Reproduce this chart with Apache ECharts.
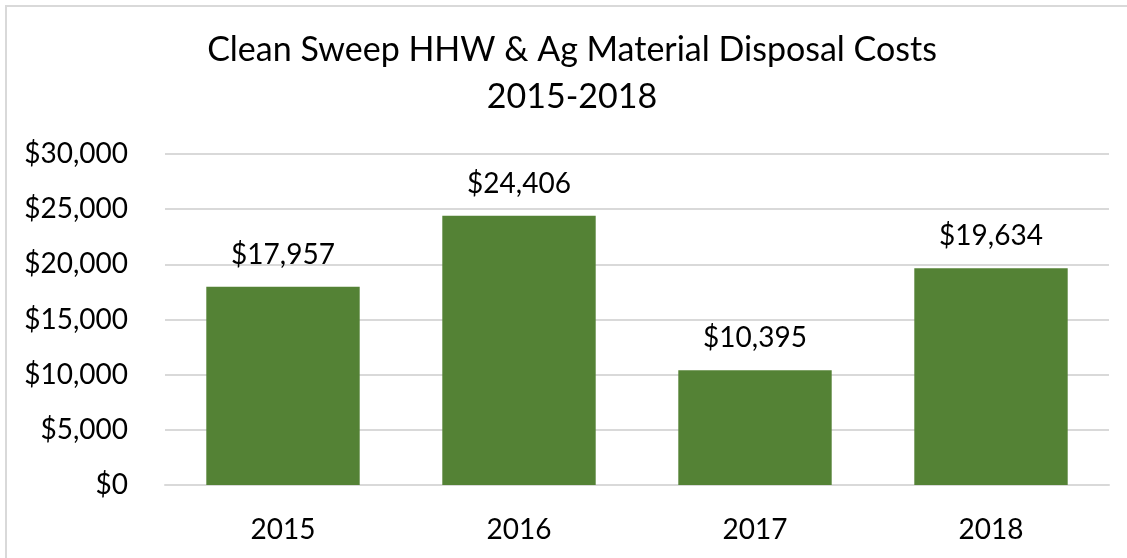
<!DOCTYPE html>
<html>
<head>
<meta charset="utf-8">
<script src="https://cdn.jsdelivr.net/npm/echarts@6/dist/echarts.min.js"></script>
<style>
html, body { margin: 0; padding: 0; background: #fff; }
#chart { width: 1127px; height: 558px; }
</style>
</head>
<body>
<div id="chart"></div>
<script>
var years = ['2015', '2016', '2017', '2018'];
var costs = [17957, 24406, 10395, 19634];
var yTicks = [0, 5000, 10000, 15000, 20000, 25000, 30000];

function money(v) {
    return '$' + Number(v).toLocaleString('en-US');
}

var chart = echarts.init(document.getElementById('chart'));
chart.setOption({
    backgroundColor: '#fff',
    textStyle: { fontFamily: 'Lato' },
    graphic: [{
        type: 'polyline',
        shape: { points: [[6, 600], [6, 6], [1200, 6]] },
        style: { stroke: '#d9d9d9', lineWidth: 2, fill: null }
    }],
    title: {
        text: 'Clean Sweep HHW & Ag Material Disposal Costs\n2015-2018',
        left: 567,
        textAlign: 'center',
        top: 22,
        textStyle: {
            fontFamily: 'Lato',
            fontWeight: 'normal',
            fontSize: 34,
            lineHeight: 47,
            color: '#000'
        }
    },
    grid: {
        left: 165,
        right: 18,
        top: 154,
        bottom: 73
    },
    xAxis: {
        type: 'category',
        data: years,
        axisTick: { show: false },
        axisLine: { lineStyle: { color: '#d9d9d9', width: 2 } },
        axisLabel: {
            color: '#000',
            fontSize: 28,
            margin: 31
        }
    },
    yAxis: {
        type: 'value',
        min: yTicks[0],
        max: yTicks[yTicks.length - 1],
        interval: 5000,
        axisLine: { show: false },
        axisTick: { show: false },
        splitLine: { lineStyle: { color: '#d9d9d9', width: 2 } },
        axisLabel: {
            color: '#000',
            fontSize: 28,
            margin: 37,
            formatter: money
        }
    },
    series: [{
        type: 'bar',
        data: costs,
        barCategoryGap: '35%',
        itemStyle: { color: '#548235' },
        label: {
            show: true,
            position: 'top',
            distance: 18,
            color: '#000',
            fontSize: 28,
            formatter: function (p) { return money(p.value); }
        }
    }]
});
</script>
</body>
</html>
